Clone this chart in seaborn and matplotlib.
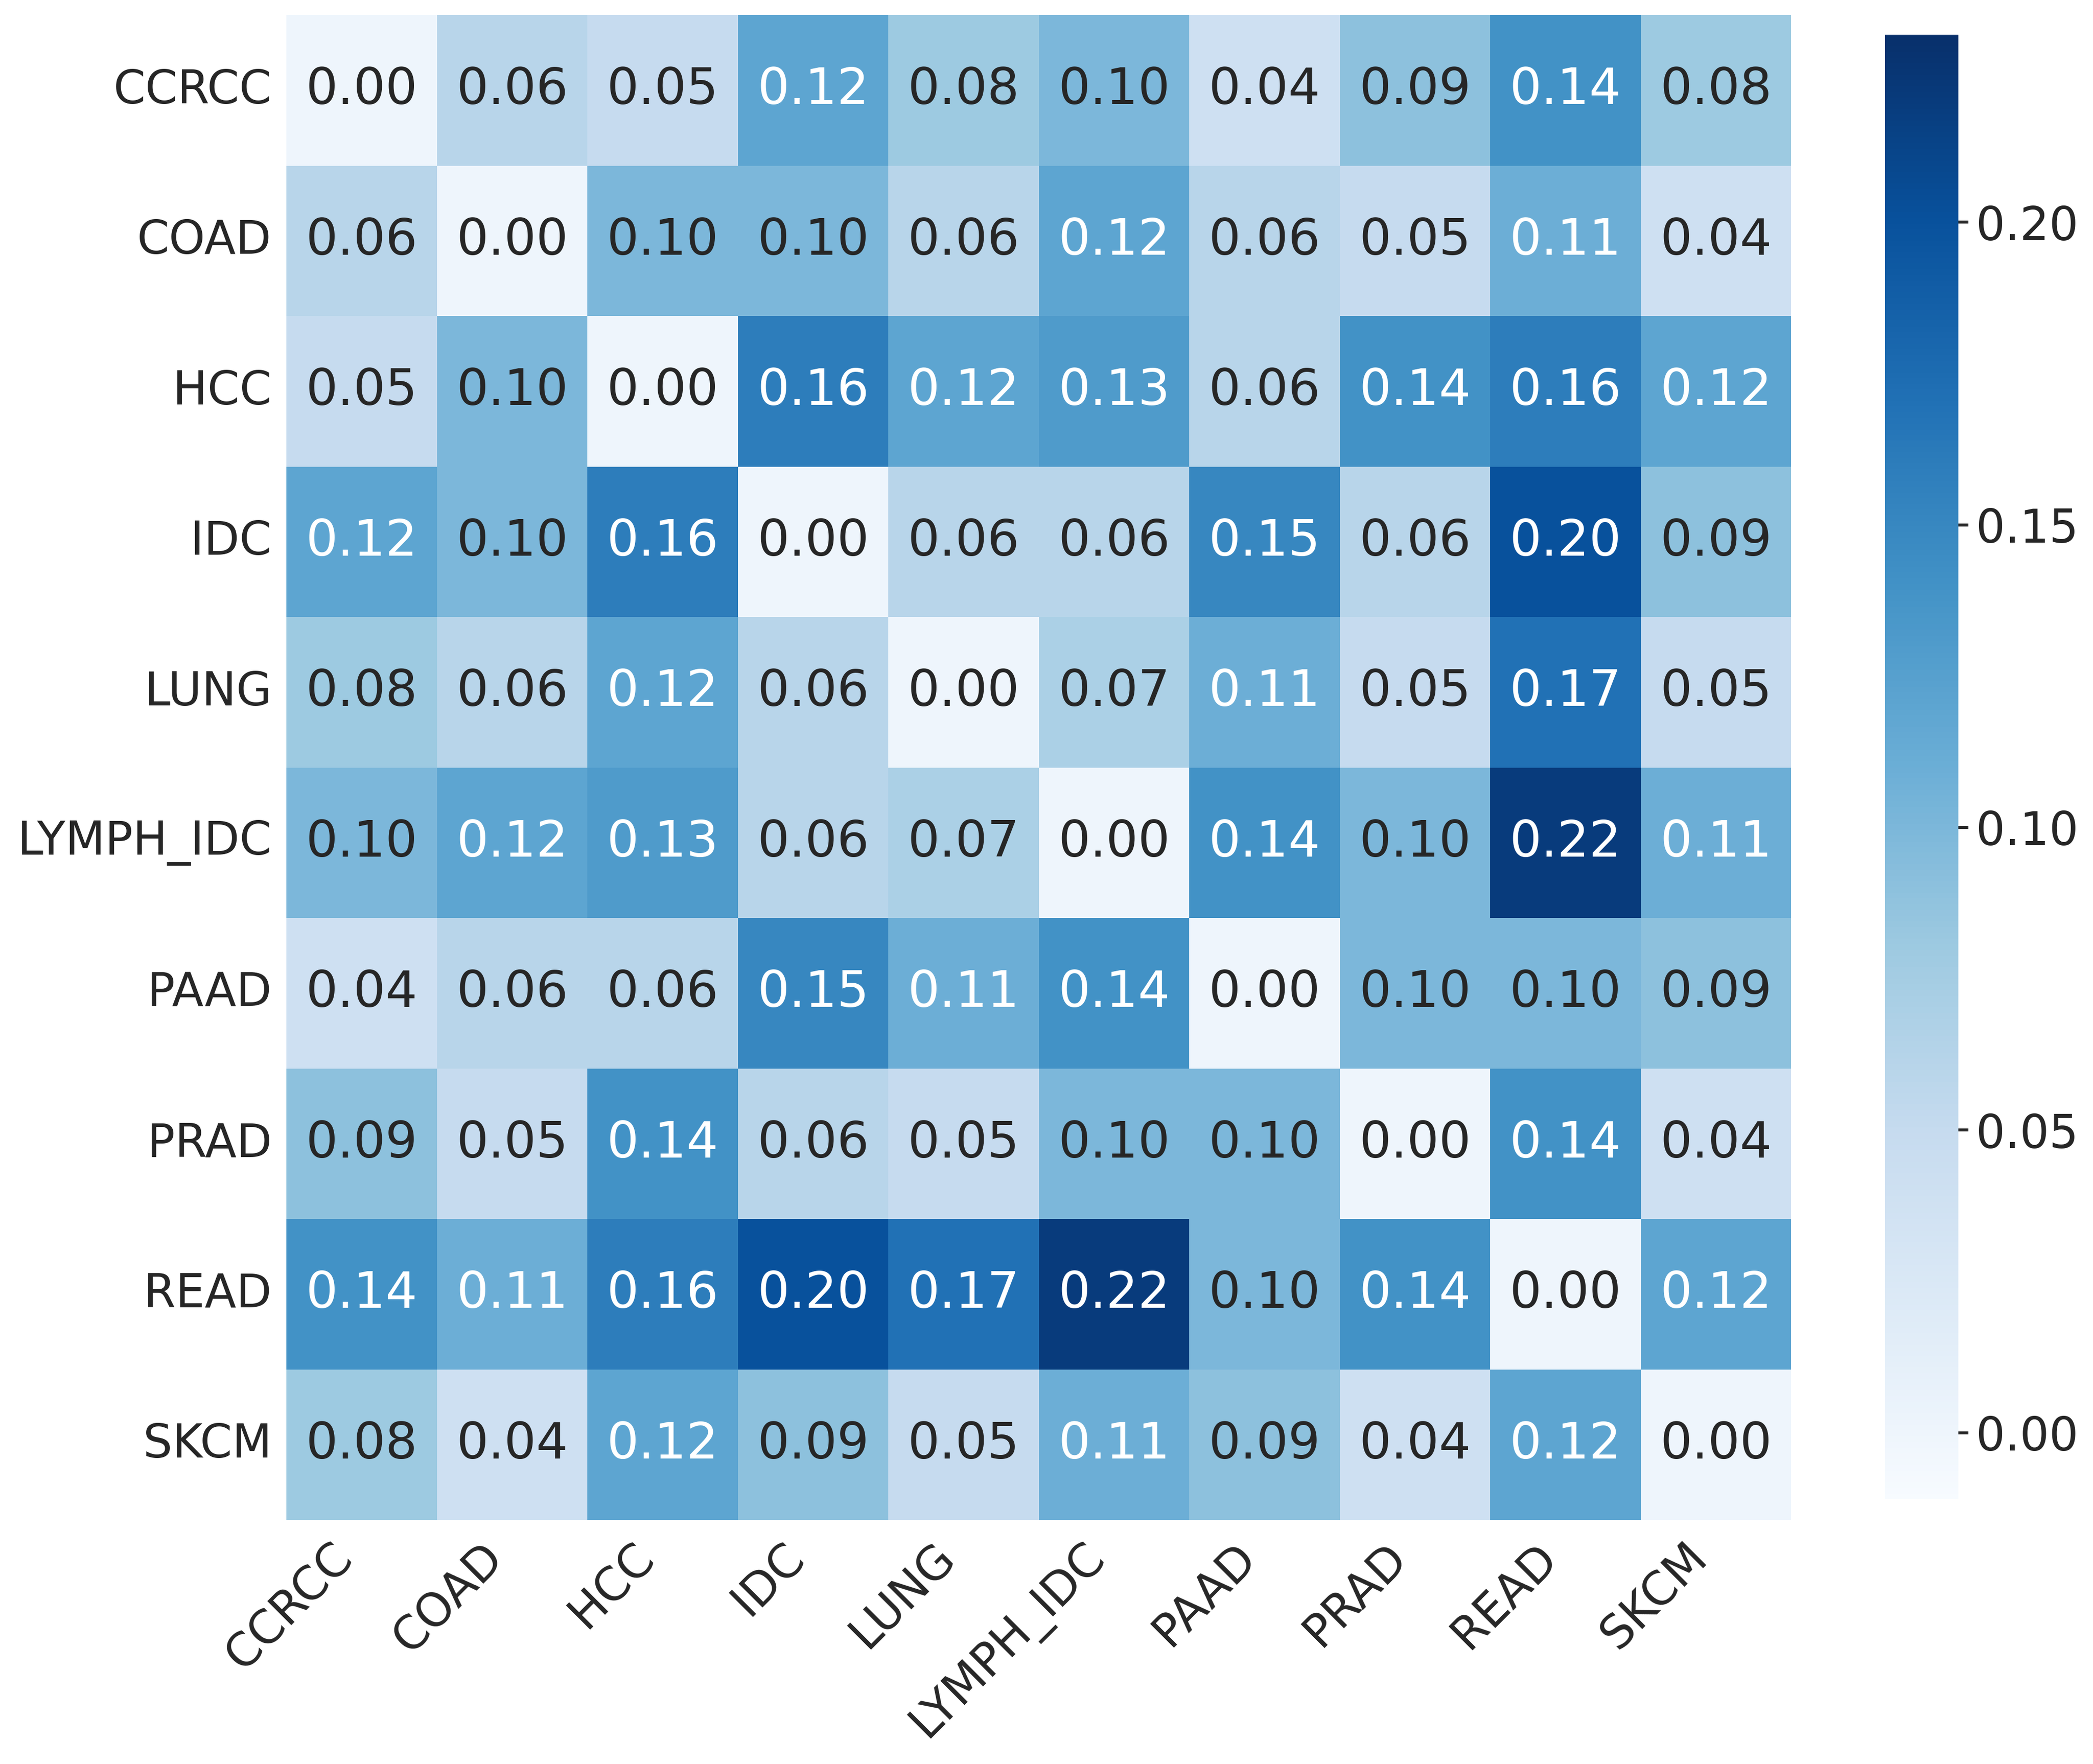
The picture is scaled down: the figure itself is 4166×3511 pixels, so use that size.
import numpy as np
import pandas as pd
import matplotlib
matplotlib.use("Agg")
import matplotlib.pyplot as plt
import seaborn as sns

labels = ["CCRCC", "COAD", "HCC", "IDC", "LUNG", "LYMPH_IDC", "PAAD", "PRAD", "READ", "SKCM"]

row_ccrcc = [0.00, 0.06, 0.05, 0.12, 0.08, 0.10, 0.04, 0.09, 0.14, 0.08]
row_coad = [0.06, 0.00, 0.10, 0.10, 0.06, 0.12, 0.06, 0.05, 0.11, 0.04]
row_hcc = [0.05, 0.10, 0.00, 0.16, 0.12, 0.13, 0.06, 0.14, 0.16, 0.12]
row_idc = [0.12, 0.10, 0.16, 0.00, 0.06, 0.06, 0.15, 0.06, 0.20, 0.09]
row_lung = [0.08, 0.06, 0.12, 0.06, 0.00, 0.07, 0.11, 0.05, 0.17, 0.05]
row_lymph_idc = [0.10, 0.12, 0.13, 0.06, 0.07, 0.00, 0.14, 0.10, 0.22, 0.11]
row_paad = [0.04, 0.06, 0.06, 0.15, 0.11, 0.14, 0.00, 0.10, 0.10, 0.09]
row_prad = [0.09, 0.05, 0.14, 0.06, 0.05, 0.10, 0.10, 0.00, 0.14, 0.04]
row_read = [0.14, 0.11, 0.16, 0.20, 0.17, 0.22, 0.10, 0.14, 0.00, 0.12]
row_skcm = [0.08, 0.04, 0.12, 0.09, 0.05, 0.11, 0.09, 0.04, 0.12, 0.00]

rows = [row_ccrcc, row_coad, row_hcc, row_idc, row_lung,
        row_lymph_idc, row_paad, row_prad, row_read, row_skcm]
df = pd.DataFrame(rows, index=labels, columns=labels)

sns.set_theme(context="paper", style="white", font_scale=2.5)

W, H = 4166, 3511
dpi = 300
fig = plt.figure(figsize=(W / dpi, H / dpi), dpi=dpi)
ax = fig.add_axes([570 / W, 1 - 3025 / H, 2995 / W, 2995 / H])
cax = fig.add_axes([3752 / W, 1 - 2984 / H, 146 / W, (2984 - 69) / H])

vmin, vmax = -0.011, 0.231
sns.heatmap(df, ax=ax, cbar_ax=cax, cmap="Blues", annot=True, fmt=".2f",
            vmin=vmin, vmax=vmax, square=False)

ax.set_xticklabels(ax.get_xticklabels(), rotation=45, ha="right")
ax.set_yticklabels(ax.get_yticklabels(), rotation=0)
ax.tick_params(axis="both", length=0, pad=7)
cax.tick_params(axis="y", length=4.8, width=1.4, pad=3.5, colors="#262626")
cax.set_yticks([0.0, 0.05, 0.10, 0.15, 0.20])
cax.set_yticklabels(["0.00", "0.05", "0.10", "0.15", "0.20"])

fig.savefig("out.png", dpi=dpi, facecolor="white")
